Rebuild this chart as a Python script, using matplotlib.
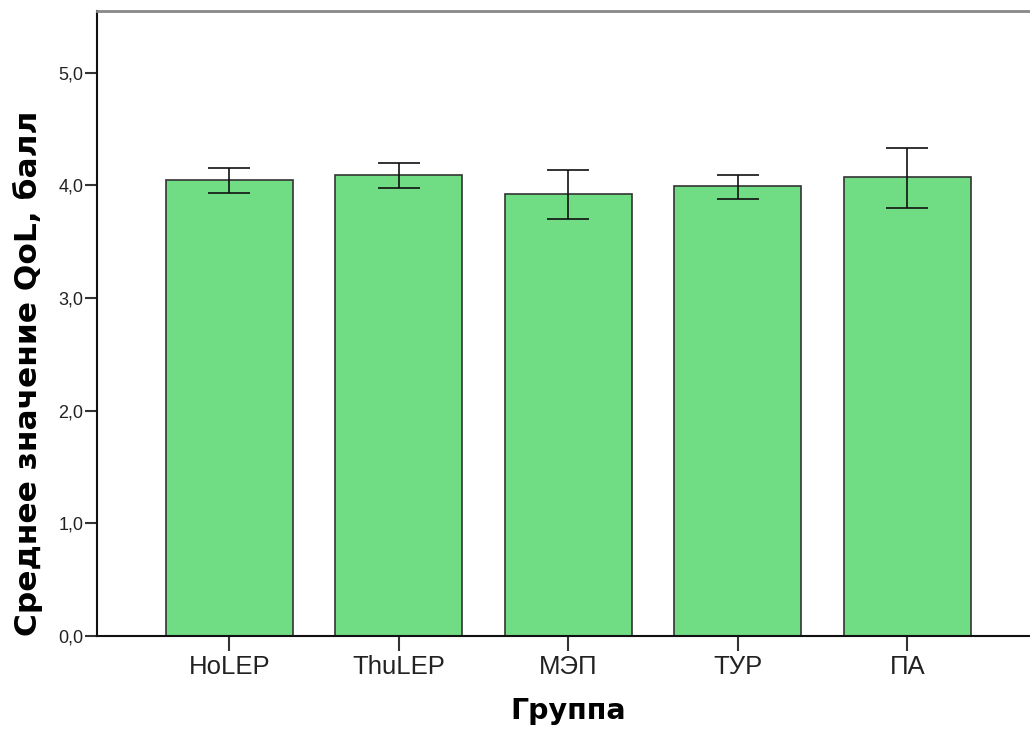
import matplotlib.pyplot as plt
import numpy as np

# средние значения QoL по группам и границы доверительных интервалов
groups = ["HoLEP", "ThuLEP", "МЭП", "ТУР", "ПА"]
means = [4.05, 4.09, 3.92, 3.99, 4.07]
ci_low = [3.935, 3.975, 3.70, 3.88, 3.80]
ci_high = [4.15, 4.195, 4.135, 4.09, 4.335]

plt.rcParams['font.family'] = ['Liberation Sans', 'DejaVu Sans']

fig = plt.figure(figsize=(10.3, 7.31), dpi=100)
# область графика чуть выходит за правый край рисунка
ax = fig.add_axes([0.0945, 0.13, 0.9146, 0.855])

x = np.arange(len(groups))
yerr = [np.array(means) - np.array(ci_low), np.array(ci_high) - np.array(means)]
ax.bar(x, means, width=0.75, color='#70dc84', edgecolor='#333333', linewidth=1.2, zorder=2)
ax.errorbar(x, means, yerr=yerr, fmt='none', ecolor='#111111', elinewidth=1.2,
            capsize=15, capthick=1.2, zorder=3)

ax.set_xlim(-0.779, 4.779)
ax.set_ylim(0, 5.548)
ax.set_xticks(x)
ax.set_xticklabels(groups, fontsize=18.5, color='#222222')
ax.set_yticks([0, 1, 2, 3, 4, 5])
ax.set_yticklabels(["0,0", "1,0", "2,0", "3,0", "4,0", "5,0"], fontsize=13, color='#222222')
ax.tick_params(axis='x', length=10.5, width=1.5, color='#333333', pad=3.5)
ax.tick_params(axis='y', length=8.5, width=1.5, color='#333333', pad=1.5)

ax.spines['right'].set_visible(False)
ax.spines['left'].set_linewidth(1.5)
ax.spines['bottom'].set_linewidth(1.5)
ax.spines['left'].set_color('#111111')
ax.spines['bottom'].set_color('#111111')
ax.spines['top'].set_color('#888888')
ax.spines['top'].set_linewidth(2)

ax.set_ylabel("Среднее значение QoL, балл", fontsize=22.5, fontweight='bold',
              family='DejaVu Sans')
ax.yaxis.set_label_coords(-0.0576, 0.42)
ax.set_xlabel("Группа", fontsize=20.5, fontweight='bold', family='DejaVu Sans')
ax.xaxis.set_label_coords(0.5, -0.12)
ax.xaxis.label.set_va('center')

fig.savefig('out.png', dpi=100)
